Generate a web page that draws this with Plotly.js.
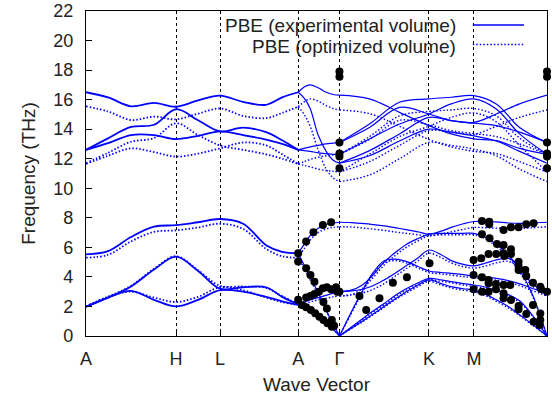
<!DOCTYPE html>
<html><head><meta charset="utf-8">
<script src="https://cdn.plot.ly/plotly-3.0.1.min.js"></script>
<style>html,body{margin:0;padding:0;background:#fff;}#chart{width:552px;height:398px;}</style>
</head><body><div id="chart"></div>
<script>
// High-symmetry path (cumulative wave-vector distance) and labels
const tickPos = [0, 90, 134, 212, 253.3, 342.7, 387.7, 460.7];
const tickText = ['A', 'H', 'L', 'A', 'Γ', 'K', 'M', 'Γ'];

// ---- Segment A-H-L-A ----
const qAHLA = [0, 22, 45, 68, 90, 112, 134, 157, 180, 196, 212];
const ahlaExpVol = [
  [1.98, 2.6, 3.35, 4.5, 5.37, 4.4, 3.2, 3.3, 3.3, 2.65, 2.15],
  [1.98, 2.6, 3.05, 2.45, 2.0, 2.45, 3.1, 3.0, 2.65, 2.35, 2.1],
  [5.53, 5.75, 6.7, 7.4, 7.5, 7.7, 7.92, 7.6, 6.15, 5.7, 5.6],
  [16.5, 16.15, 15.55, 15.78, 15.52, 15.95, 16.27, 15.85, 15.65, 16.15, 16.5],
  [12.6, 13.38, 14.15, 14.3, 15.35, 14.6, 13.85, 14.1, 13.8, 13.25, 12.6],
  [12.6, 13.05, 13.6, 13.6, 13.33, 13.55, 13.85, 13.6, 13.3, 13.0, 12.6]
];
const ahlaOptVol = [
  [2.0, 2.65, 3.4, 4.55, 5.4, 4.45, 3.4, 3.35, 3.25, 2.7, 2.15],
  [2.0, 2.65, 3.0, 2.6, 2.3, 2.65, 3.3, 3.1, 2.6, 2.3, 2.1],
  [5.3, 5.5, 6.4, 7.05, 7.15, 7.35, 7.6, 7.25, 5.9, 5.4, 5.3],
  [15.55, 15.2, 14.62, 14.85, 14.67, 15.05, 15.4, 14.9, 14.75, 15.1, 15.52],
  [11.65, 12.2, 12.7, 12.45, 12.14, 12.35, 12.7, 13.1, 12.9, 12.3, 11.65],
  [11.7, 12.4, 13.15, 13.4, 14.4, 13.6, 12.9, 12.6, 12.3, 12.0, 11.65]
];

// ---- Segment A-Γ ----
const qAG = [212, 218, 224, 232, 240, 247, 253.3];
const agExpVol = [
  [16.5, 16.85, 17.0, 16.8, 16.5, 16.35, 16.3],
  [16.5, 16.1, 15.4, 13.6, 12.5, 11.9, 11.7],
  [12.6, 12.7, 12.8, 12.9, 13.0, 13.05, 13.1],
  [12.6, 12.55, 12.5, 12.4, 12.35, 12.3, 12.3],
  [5.6, 6.2, 6.8, 7.3, 7.55, 7.65, 7.7],
  [5.6, 4.8, 3.95, 2.95, 1.75, 0.8, 0],
  [2.1, 2.3, 2.45, 2.6, 2.75, 2.9, 3.0],
  [2.15, 1.9, 1.65, 1.25, 0.87, 0.45, 0]
];
const agOptVol = [
  [15.52, 15.85, 16.05, 15.9, 15.6, 15.4, 15.3],
  [15.52, 15.0, 14.2, 12.6, 11.3, 10.7, 10.45],
  [11.65, 11.8, 11.95, 12.1, 12.2, 12.25, 12.3],
  [11.65, 11.55, 11.45, 11.3, 11.2, 11.15, 11.1],
  [5.3, 5.9, 6.5, 7.0, 7.25, 7.35, 7.4],
  [5.3, 4.6, 3.8, 2.8, 1.7, 0.8, 0],
  [2.1, 2.2, 2.3, 2.45, 2.55, 2.65, 2.7],
  [2.1, 1.85, 1.6, 1.2, 0.85, 0.45, 0]
];

// ---- Segment Γ-K-M-Γ, upper (optical) branches ----
const qGKMGu = [253.3, 283.3, 313.3, 342.7, 365, 387.7, 410, 433.3, 460.7];
const gkmgExpVolU = [
  [16.3, 16.05, 15.14, 14.24, 13.68, 13.34, 13.23, 12.7, 12.3],
  [13.1, 14.12, 15.48, 15.03, 14.58, 14.4, 14.24, 13.8, 13.1],
  [13.1, 14.35, 15.82, 16.05, 16.16, 16.27, 15.71, 14.12, 13.1],
  [12.3, 13.34, 14.35, 15.03, 15.71, 16.05, 15.37, 13.68, 12.3],
  [11.7, 12.55, 13.68, 14.8, 14.58, 14.46, 15.03, 15.71, 16.3],
  [11.7, 12.2, 13.2, 14.0, 13.8, 13.55, 13.2, 12.5, 11.7]
];
const gkmgOptVolU = [
  [15.3, 15.05, 14.2, 13.3, 12.8, 12.5, 12.35, 11.8, 11.1],
  [12.3, 13.3, 14.6, 14.3, 13.9, 13.7, 13.5, 13.0, 12.3],
  [12.3, 13.5, 14.9, 15.2, 15.3, 15.4, 14.9, 13.4, 12.3],
  [11.1, 12.3, 13.5, 14.2, 14.8, 15.1, 14.5, 12.9, 11.1],
  [11.1, 11.8, 12.9, 13.9, 13.8, 13.65, 14.2, 14.8, 15.3],
  [10.45, 10.9, 12.0, 13.1, 12.9, 12.65, 12.2, 11.3, 10.45]
];

// ---- Segment Γ-K-M-Γ, lower branches ----
const qGKMGl = [253.3, 265, 275, 285, 298, 310, 320, 332, 342.7, 355, 365, 377, 387.7, 400, 410, 422, 433, 445, 460.7];
const gkmgExpVolL = [
  [7.7, 7.68, 7.62, 7.56, 7.45, 7.32, 7.2, 7.05, 6.9, 7.1, 7.35, 7.6, 7.75, 7.75, 7.72, 7.65, 7.62, 7.65, 7.7],
  [3.0, 3.1, 3.4, 4.0, 5.0, 5.7, 6.2, 6.6, 6.9, 6.95, 6.95, 6.95, 6.95, 6.65, 6.2, 5.5, 4.5, 3.0, 0],
  [0, 1.6, 2.9, 4.1, 5.1, 5.2, 5.05, 4.7, 4.4, 4.3, 4.24, 4.15, 4.06, 3.98, 3.9, 3.75, 3.55, 3.25, 2.9],
  [3.0, 3.05, 3.15, 3.35, 3.8, 4.3, 4.75, 5.3, 5.82, 5.5, 5.1, 4.85, 4.75, 4.95, 5.15, 5.25, 4.75, 3.6, 2.9],
  [0, 0.6, 1.1, 1.6, 2.2, 2.8, 3.2, 3.6, 3.9, 3.8, 3.68, 3.55, 3.45, 3.3, 3.1, 2.8, 2.4, 1.5, 0],
  [0, 0.5, 0.95, 1.4, 2.0, 2.55, 3.0, 3.45, 3.8, 3.55, 3.34, 3.2, 3.1, 2.8, 2.45, 2.0, 1.45, 0.85, 0]
];
const gkmgOptVolL = [
  [7.4, 7.38, 7.32, 7.25, 7.15, 7.03, 6.95, 6.85, 6.78, 6.9, 7.05, 7.22, 7.35, 7.33, 7.3, 7.28, 7.28, 7.32, 7.4],
  [2.7, 2.8, 3.15, 3.8, 4.8, 5.5, 6.0, 6.45, 6.78, 6.85, 6.85, 6.85, 6.85, 6.55, 6.05, 5.35, 4.35, 2.9, 0],
  [0, 1.5, 2.8, 3.95, 4.95, 5.1, 4.95, 4.6, 4.3, 4.2, 4.12, 4.02, 3.95, 3.85, 3.78, 3.62, 3.42, 3.1, 2.7],
  [2.7, 2.78, 2.9, 3.1, 3.55, 4.1, 4.55, 5.1, 5.6, 5.3, 4.95, 4.7, 4.6, 4.75, 4.95, 5.05, 4.6, 3.45, 2.7],
  [0, 0.55, 1.05, 1.55, 2.1, 2.7, 3.1, 3.5, 3.8, 3.7, 3.6, 3.45, 3.35, 3.2, 3.0, 2.7, 2.3, 1.45, 0],
  [0, 0.5, 0.9, 1.35, 1.95, 2.5, 2.9, 3.35, 3.7, 3.45, 3.25, 3.1, 3.0, 2.7, 2.35, 1.9, 1.4, 0.8, 0]
];

// ---- Experimental points ----
const expQ = [
  253.3, 253.3, 253.3, 253.3, 253.3, 253.3,
  460.7, 460.7, 460.7, 460.7, 460.7, 460.7,
  212, 212, 220, 227.3, 236.7, 245,
  220, 224.3, 228.3, 237.3, 240.7, 245.7, 248,
  212, 220, 224.3, 228.3, 232.7, 236.7, 240.7, 245, 250, 251, 253.3,
  215.7, 220, 224.7, 229, 233.3, 237.3, 241.3, 245.7,
  273.3, 280, 293.3, 306.7, 320.7, 343.3,
  395.7, 403, 403, 417.3, 424.7, 432.3, 440, 447.3,
  395.7, 403.3, 410.7, 417.3, 424.7, 424.7, 432.3, 432.3, 432.3, 439, 440, 446.7, 454, 454.7, 460.7,
  387.3, 395, 402.3, 410, 417.3, 418,
  387.3, 395.7, 402.3, 402.3, 409.7, 417.3, 424,
  387.3, 395.7, 402.3, 409.7, 417.3, 417.3, 424.7, 432.3, 432.3, 440, 446.7, 447.3, 454, 454, 453.3
];
const expFreq = [
  17.9, 17.55, 13.1, 12.35, 12.15, 11.35,
  17.9, 17.55, 13.1, 12.35, 12.15, 11.35,
  5.6, 5.04, 6.39, 7.02, 7.52, 7.7,
  4.58, 4.13, 3.68, 2.3, 1.87, 1.08, 0.7,
  2.45, 2.6, 2.7, 2.85, 3.0, 3.23, 3.3, 3.16, 3.3, 3.0, 3.0,
  2.1, 1.94, 1.76, 1.54, 1.31, 1.08, 0.86, 0.63,
  2.71, 1.76, 2.55, 3.61, 3.97, 4.92,
  7.79, 7.74, 7.56, 7.18, 7.36, 7.36, 7.56, 7.63,
  6.88, 6.61, 6.23, 6.16, 5.87, 5.55, 5.03, 4.74, 4.47, 4.47, 4.06, 3.61, 3.34, 3.18, 3.0,
  5.15, 5.26, 5.55, 5.55, 5.6, 5.42,
  4.13, 3.97, 3.79, 3.57, 3.52, 3.45, 3.45,
  3.16, 3.0, 3.0, 3.16, 2.89, 2.55, 2.44, 2.03, 1.81, 1.49, 2.1, 0.97, 1.53, 1.08, 0.74
];

function joinBands(grid, bandLists) {
  const x = [], y = [];
  bandLists.forEach(function (bands) {
    bands.forEach(function (b) {
      if (x.length) { x.push(null); y.push(null); }
      grid.forEach(function (g, j) { x.push(g); y.push(b[j]); });
    });
  });
  return { x: x, y: y };
}
function joinSeg(pairs) {
  const x = [], y = [];
  pairs.forEach(function (p) {
    const r = joinBands(p[0], [p[1]]);
    if (x.length) { x.push(null); y.push(null); }
    r.x.forEach(function (v) { x.push(v); });
    r.y.forEach(function (v) { y.push(v); });
  });
  return { x: x, y: y };
}

const BLUE = '#0000ff';
const DOTS = '1.5px,2px';
const seg1Solid = joinBands(qAHLA, [ahlaExpVol]);
const seg1Dot = joinBands(qAHLA, [ahlaOptVol]);
const restSolid = joinSeg([[qAG, agExpVol], [qGKMGu, gkmgExpVolU], [qGKMGl, gkmgExpVolL]]);
const restDot = joinSeg([[qAG, agOptVol], [qGKMGu, gkmgOptVolU], [qGKMGl, gkmgOptVolL]]);

const traces = [
  { x: seg1Dot.x, y: seg1Dot.y, mode: 'lines', name: 'PBE (optimized volume)',
    line: { color: BLUE, width: 1.8, dash: DOTS, shape: 'spline', smoothing: 1 }, hoverinfo: 'skip' },
  { x: restDot.x, y: restDot.y, mode: 'lines', name: 'PBE (optimized volume)',
    line: { color: BLUE, width: 1.4, dash: DOTS, shape: 'spline', smoothing: 1 }, hoverinfo: 'skip' },
  { x: seg1Solid.x, y: seg1Solid.y, mode: 'lines', name: 'PBE (experimental volume)',
    line: { color: BLUE, width: 1.8, shape: 'spline', smoothing: 1 }, hoverinfo: 'skip' },
  { x: restSolid.x, y: restSolid.y, mode: 'lines', name: 'PBE (experimental volume)',
    line: { color: BLUE, width: 1.2, shape: 'spline', smoothing: 1 }, hoverinfo: 'skip' },
  { x: expQ, y: expFreq, mode: 'markers', name: 'Experiment',
    marker: { color: '#000', size: 8 }, cliponaxis: false }
];

const FONT = 'Liberation Sans, Arial, Helvetica, sans-serif';
const layout = {
  width: 552, height: 398,
  margin: { l: 86, r: 5, t: 11, b: 62 },
  paper_bgcolor: '#fff', plot_bgcolor: '#fff',
  showlegend: false,
  font: { family: FONT, color: '#222', size: 18 },
  xaxis: {
    range: [0, 460.7], tickvals: tickPos, ticktext: tickText,
    showgrid: true, gridcolor: '#000', griddash: 'dot', gridwidth: 1,
    zeroline: false, showline: true, linecolor: '#000', linewidth: 1.2, mirror: true,
    ticks: 'inside', ticklen: 6, tickcolor: '#000',
    tickfont: { size: 18, family: FONT, color: '#222' }, ticklabelstandoff: 6,
    title: { text: 'Wave Vector', font: { size: 19, family: FONT, color: '#222' }, standoff: 10 }
  },
  yaxis: {
    range: [0, 22], tick0: 0, dtick: 2,
    showgrid: false, zeroline: false, showline: true, linecolor: '#000', linewidth: 1.2, mirror: true,
    ticks: 'inside', ticklen: 6, tickcolor: '#000',
    tickfont: { size: 18, family: FONT, color: '#222' }, ticklabelstandoff: 8,
    title: { text: 'Frequency (THz)', font: { size: 19, family: FONT, color: '#222' }, standoff: 12 }
  },
  annotations: [
    { xref: 'paper', yref: 'paper', x: 0.808, y: 0.954, xanchor: 'right', yanchor: 'middle',
      text: 'PBE (experimental volume)', showarrow: false, font: { size: 19, family: FONT, color: '#222' } },
    { xref: 'paper', yref: 'paper', x: 0.808, y: 0.892, xanchor: 'right', yanchor: 'middle',
      text: 'PBE (optimized volume)', showarrow: false, font: { size: 19, family: FONT, color: '#222' } }
  ],
  shapes: [
    { type: 'line', xref: 'paper', yref: 'paper', x0: 0.839, x1: 0.950, y0: 0.957, y1: 0.957,
      line: { color: BLUE, width: 1.3 } },
    { type: 'line', xref: 'paper', yref: 'paper', x0: 0.839, x1: 0.950, y0: 0.897, y1: 0.897,
      line: { color: BLUE, width: 1.4, dash: DOTS } }
  ]
};

Plotly.newPlot('chart', traces, layout, { staticPlot: true, displayModeBar: false });
</script>
</body></html>
